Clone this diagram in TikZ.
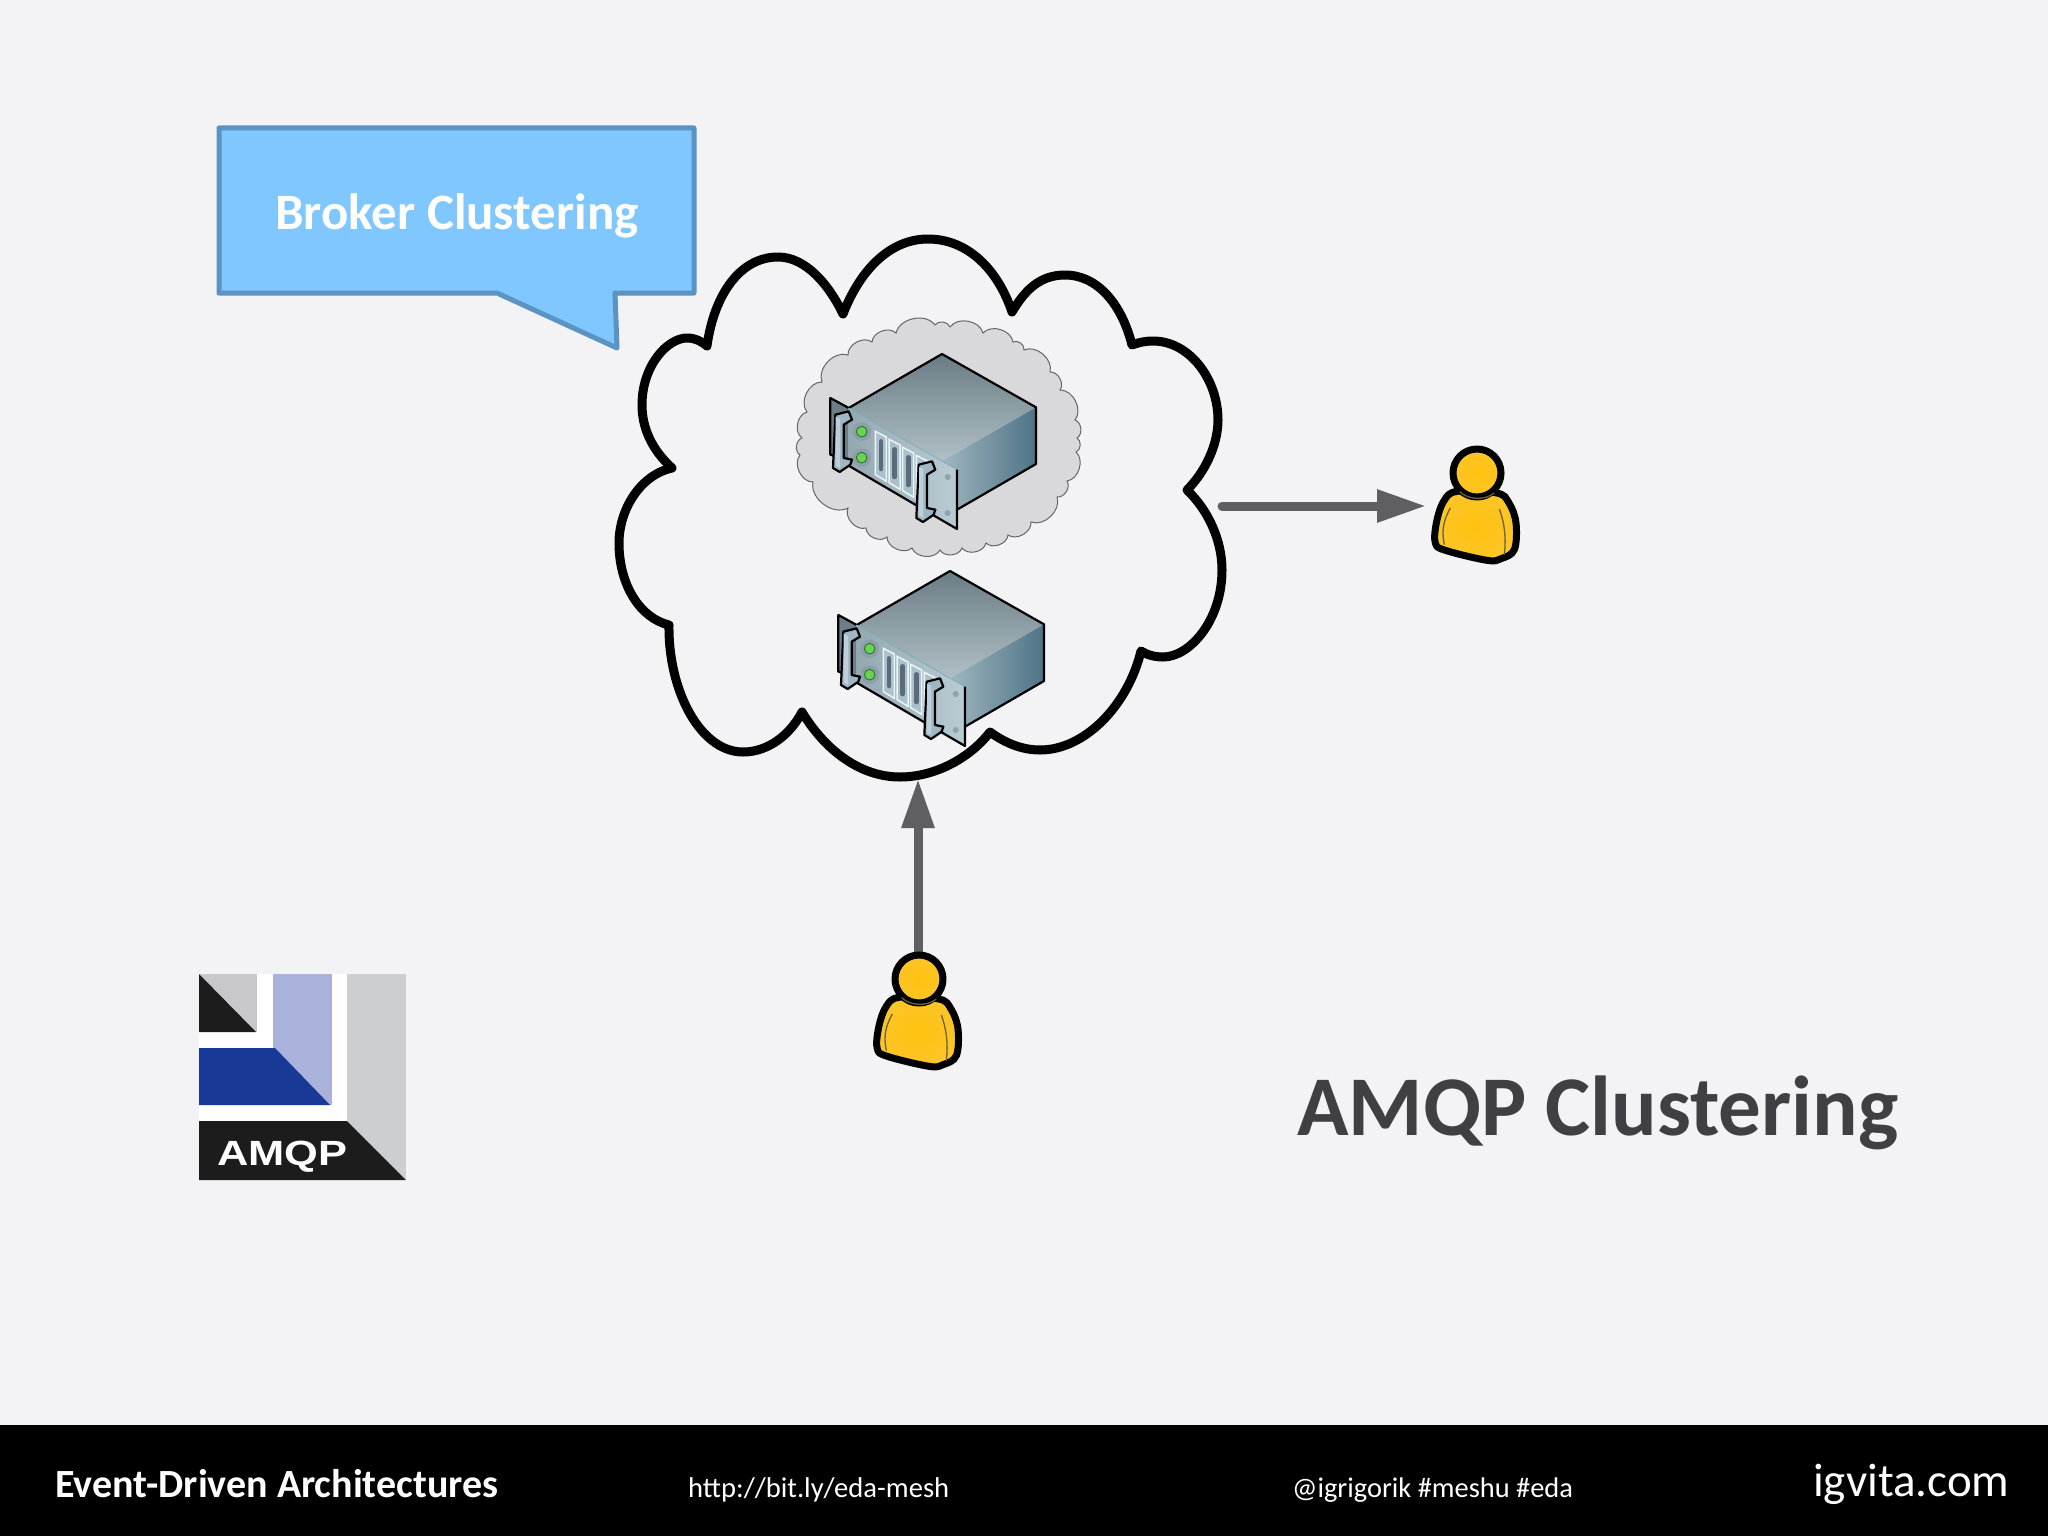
\documentclass[tikz,border=0pt]{standalone}
\usepackage{fontspec}
\setmainfont{Carlito}
\newfontfamily\logofont{Liberation Sans}
\usetikzlibrary{arrows.meta}
\definecolor{slidebg}{HTML}{F3F3F5}
\definecolor{callfill}{HTML}{80C6FF}
\definecolor{calledge}{HTML}{5B93C2}
\definecolor{flowgray}{HTML}{5F5E62}
\definecolor{titlegray}{HTML}{404044}
\definecolor{haze}{HTML}{D9D9DC}
\definecolor{goldin}{HTML}{FFC20E}
\definecolor{goldout}{HTML}{FCC52A}
\definecolor{seam}{HTML}{6A6240}
% server colours
\definecolor{earfill}{HTML}{6C7F89}
\definecolor{topdark}{HTML}{6A7C84}
\definecolor{toplight}{HTML}{B0BFC5}
\definecolor{sidelight}{HTML}{A0B6C0}
\definecolor{sidedark}{HTML}{4E7387}
\definecolor{paneldark}{HTML}{94A8B2}
\definecolor{panellight}{HTML}{BACCD3}
\definecolor{panelline}{HTML}{78AFB9}
\definecolor{halo}{HTML}{8C9FAA}
\definecolor{ledline}{HTML}{2D7337}
\definecolor{ledfill}{HTML}{69D250}
\definecolor{slotline}{HTML}{EBF5F8}
\definecolor{slotfill}{HTML}{AAC0CB}
\definecolor{slotpill}{HTML}{5C6A7C}
\definecolor{screw}{HTML}{91A2AA}
\definecolor{handleback}{HTML}{A0B6C2}
\definecolor{handlefront}{HTML}{BDD0DA}
% logo colours
\definecolor{logogray}{HTML}{C8C8CB}
\definecolor{logoblack}{HTML}{1C1C1C}
\definecolor{logolav}{HTML}{AAB2DB}
\definecolor{logoblue}{HTML}{183A96}
\definecolor{logoside}{HTML}{CDCED0}
\tikzset{
  txt/.style={inner sep=0pt,anchor=base west},
  cloudline/.style={draw=black,line width=9pt,line join=round},
  flow/.style={draw=flowgray,line width=9pt,line cap=round,
    -{Triangle[length=49pt,width=31pt,fill=flowgray]}},
  edge/.style={black,line width=2.2pt,line join=round},
  gold/.style={inner color=goldin,outer color=goldout,shading=radial,draw=black,line width=7pt,line join=round},
  person/.pic={
    \begin{scope}[scale=1/3]
      \shadedraw[gold]
        plot[smooth cycle,tension=.6] coordinates {(-60,55)(-100,85)(-122,150)(-125,210)(-95,232)(30,262)(72,257)(112,230)(117,150)(96,90)(60,60)};
      \draw[seam,line width=1.3pt] (-80,105) .. controls (-105,150) and (-105,180) .. (-98,215);
      \draw[seam,line width=1.3pt] (67,108) .. controls (82,150) and (88,190) .. (82,245);
      \shadedraw[gold] (0,0) circle (72);
      \draw[seam,line width=1.3pt] (-52,56) .. controls (-25,82) and (25,82) .. (52,60);
    \end{scope}
  },
  server/.pic={
    \begin{scope}[scale=1/3]
      % left ear, then the box
      \fill[earfill] (-335,132) -- (-280,162) -- (-280,320) -- (-335,302) -- cycle;
      \draw[edge] (-280,320) -- (-335,302) -- (-335,132) -- (-280,162);
      \shade[top color=topdark,bottom color=toplight]
        (0,0) -- (282,160) -- (0,322) -- (-280,162) -- cycle;
      \shade[left color=sidelight,right color=sidedark]
        (282,160) -- (282,330) -- (0,492) -- (0,322) -- cycle;
      \draw[edge] (-280,162) -- (0,0) -- (282,160) -- (282,330) -- (45,467);
      % front panel with the plate
      \shade[left color=paneldark,right color=panellight]
        (-280,162) -- (45,347) -- (45,525) -- (-70,458) -- (-280,335) -- cycle;
      \draw[panelline,line width=.8pt] (-280,162) -- (45,347);
      \draw[edge] (45,347) -- (45,525) -- (-70,458) -- (-280,335);
      % lamps
      \foreach \ly in {233,311}{
        \fill[halo] (-241,\ly) circle (28);
        \draw[ledline,line width=.9pt,fill=ledfill] (-241,\ly) circle (16);
      }
      % slots
      \foreach \sk in {0,1,2,3}{
        \begin{scope}[shift={(41*\sk,24*\sk)}]
          \draw[slotline,fill=slotfill,line width=1.5pt]
            (-200,232) -- (-167,249) -- (-167,382) -- (-200,362) -- cycle;
          \draw[slotpill,line width=4.5pt,line cap=round] (-183,262) -- (-183,345);
        \end{scope}
      }
      % screws
      \fill[screw] (17,369) circle (9) (17,477) circle (9);
      % handles
      \foreach \hx/\hy in {0/0,250/150}{
        \begin{scope}[shift={(\hx,\hy)}]
          \draw[edge,fill=handleback]
            (-320,182) -- (-280,172) -- (-270,197) -- (-295,212) -- (-295,312) -- (-270,317)
            -- (-275,332) -- (-307,354) -- (-327,342) -- cycle;
          \fill[handlefront] (-319,188) -- (-306,195) -- (-306,342) -- (-319,335) -- cycle;
        \end{scope}
      }
    \end{scope}
  }
}
\begin{document}
\begin{tikzpicture}[x=1pt,y=-1pt]
  \useasboundingbox (0,0) rectangle (2048,1536);
  \fill[slidebg] (0,0) rectangle (2048,1536);
  \fill[black] (0,1425) rectangle (2048,1536);

  % callout
  \draw[fill=callfill,draw=calledge,line width=5pt,line join=round]
    (219,128) -- (694,128) -- (694,293) -- (615,293) -- (617,348) -- (497,293) -- (219,293) -- cycle;
  \node[txt,text=white,font=\fontsize{51}{51}\selectfont\bfseries] (calltext) at (275,229) {Broker Clustering};

  % big cloud
  \draw[cloudline,fill=slidebg]
    (707,346) .. controls (714,295) and (740,257) .. (778,257) .. controls (806,257) and (829,285) .. (843,314)
    .. controls (860,270) and (890,239) .. (928,239) .. controls (968,239) and (998,270) .. (1012,312)
    .. controls (1025,290) and (1040,275) .. (1065,275) .. controls (1098,275) and (1122,305) .. (1132,345)
    .. controls (1140,342) and (1147,341) .. (1153,341) .. controls (1190,341) and (1218,380) .. (1218,420)
    .. controls (1218,445) and (1205,472) .. (1187,490)
    .. controls (1208,510) and (1222,540) .. (1222,570) .. controls (1222,620) and (1190,657) .. (1163,657)
    .. controls (1155,657) and (1147,655) .. (1141,651)
    .. controls (1128,705) and (1085,750) .. (1040,750) .. controls (1022,750) and (1005,743) .. (990,732)
    .. controls (970,758) and (935,777) .. (900,777) .. controls (860,777) and (825,750) .. (802,712)
    .. controls (790,735) and (768,752) .. (743,752) .. controls (700,752) and (668,690) .. (669,625)
    .. controls (640,618) and (619,585) .. (619,543) .. controls (619,510) and (640,475) .. (672,468)
    .. controls (652,450) and (642,428) .. (642,405) .. controls (642,365) and (668,338) .. (687,338)
    .. controls (695,338) and (701,341) .. (707,346) -- cycle;

  % grey haze behind the upper server
  \draw[fill=haze,draw=black!60,line width=1pt,every to/.style={bend left=65}]
    (848,355) to (872,342) to (896,333) to (935,325) to (950,327) to (983,333) to (1013,342)
    to (1024,350) to (1050,372) to (1060,390) to (1075,420) to (1077,438) to (1076,452)
    to (1067,481) to (1057,497) to (1031,522) to (1008,535) to (986,543) to (962,548)
    to (940,550) to (912,548) to (887,537) to (866,528) to (848,508) to (813,482)
    to (800,455) to (802,438) to (807,412) to (822,382) to (848,355) -- cycle;

  \pic at (942,354) {server};
  \pic at (950,571) {server};

  % connectors
  \coordinate (cloudout) at (1222,506);
  \coordinate (userin) at (1426,506);
  \coordinate (userout) at (918,960);
  \coordinate (cloudin) at (918,779);
  \draw[flow] (cloudout) -- (userin);
  \draw[flow] (userout) -- (cloudin);
  \pic at (1477,473) {person};
  \pic at (919,979) {person};

  % logo
  \fill[white] (199,974) rectangle (406,1180);
  \fill[logogray] (199,974) rectangle (257,1032);
  \fill[logoblack] (199,974) -- (199,1032) -- (256,1032) -- cycle;
  \fill[logolav] (273,974) rectangle (332,1105);
  \fill[logoblue] (199,1048) -- (275,1048) -- (330,1105) -- (199,1105) -- cycle;
  \fill[logoside] (347,974) rectangle (406,1180);
  \fill[logoblack] (199,1121) -- (347,1121) -- (406,1180) -- (199,1180) -- cycle;
  \node[txt,text=white,font=\logofont\bfseries\fontsize{35}{35}\selectfont,xscale=1.24] (logotext) at (217,1165) {AMQP};

  % texts
  \node[txt,text=titlegray,font=\fontsize{85}{85}\selectfont\bfseries] (title) at (1297,1135) {AMQP Clustering};
  \node[txt,text=white,font=\fontsize{40}{40}\selectfont\bfseries] (event) at (55,1497) {Event-Driven Architectures};
  \node[txt,text=white,font=\fontsize{28.6}{30}\selectfont] (link) at (688,1497) {http://bit.ly/eda-mesh};
  \node[txt,text=white,font=\fontsize{28.4}{30}\selectfont] (handle) at (1292,1497) {@igrigorik \#meshu \#eda};
  \node[txt,text=white,font=\fontsize{47}{47}\selectfont] (brand) at (1813,1496) {igvita.com};
\end{tikzpicture}
\end{document}
